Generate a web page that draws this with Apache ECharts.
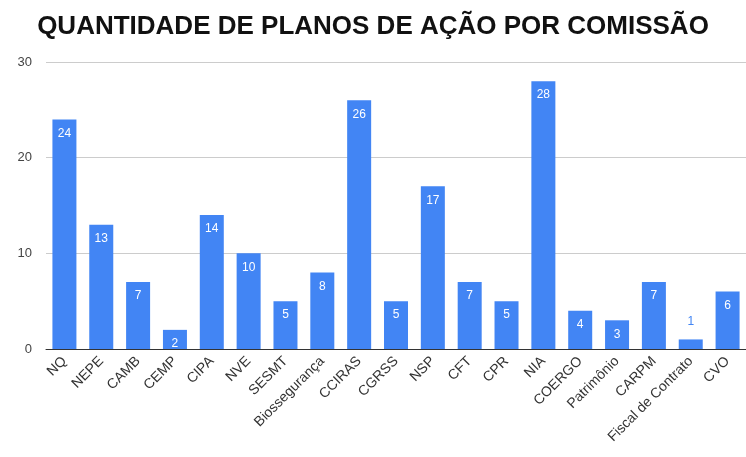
<!DOCTYPE html>
<html><head><meta charset="utf-8">
<script src="https://cdn.jsdelivr.net/npm/echarts@6/dist/echarts.min.js"></script>
<style>html,body{margin:0;padding:0;background:#fff}#c{width:746px;height:457px}</style>
</head><body><div id="c"></div>
<script>
const categories = ["NQ","NEPE","CAMB","CEMP","CIPA","NVE","SESMT","Biossegurança","CCIRAS","CGRSS","NSP","CFT","CPR","NIA","COERGO","Patrimônio","CARPM","Fiscal de Contrato","CVO"];
const values = [24,13,7,2,14,10,5,8,26,5,17,7,5,28,4,3,7,1,6];
const yTicks = [0,10,20,30];
const FONT = '"Liberation Sans", Arial, sans-serif';

const chart = echarts.init(document.getElementById('c'));
chart.setOption({
  animation:false,
  title:{text:"QUANTIDADE DE PLANOS DE AÇÃO POR COMISSÃO",left:'center',top:9,
    textStyle:{fontFamily:FONT,fontSize:26,fontWeight:'bold',color:'#111'}},
  grid:{left:46,right:0,top:62,bottom:108},
  xAxis:{type:'category',data:categories,
    axisTick:{show:false},
    axisLine:{lineStyle:{color:'#333',width:1}},
    axisLabel:{rotate:45,interval:0,fontSize:14,color:'#333',fontFamily:FONT,margin:10}},
  yAxis:{type:'value',min:yTicks[0],max:yTicks[yTicks.length-1],interval:10,
    axisLabel:{fontSize:13,color:'#444',fontFamily:FONT,margin:14},
    splitLine:{lineStyle:{color:'#ccc'}},
    axisLine:{show:false},axisTick:{show:false}},
  series:[{type:'bar',barWidth:24,
    data:values.map(v=> v<2 ? {value:v,label:{position:'top',color:'#4285F4',distance:12}} : v),
    itemStyle:{color:'#4285F4'},
    label:{show:true,position:'insideTop',color:'#fff',fontSize:12,distance:8,fontFamily:FONT}}]
});
</script></body></html>
